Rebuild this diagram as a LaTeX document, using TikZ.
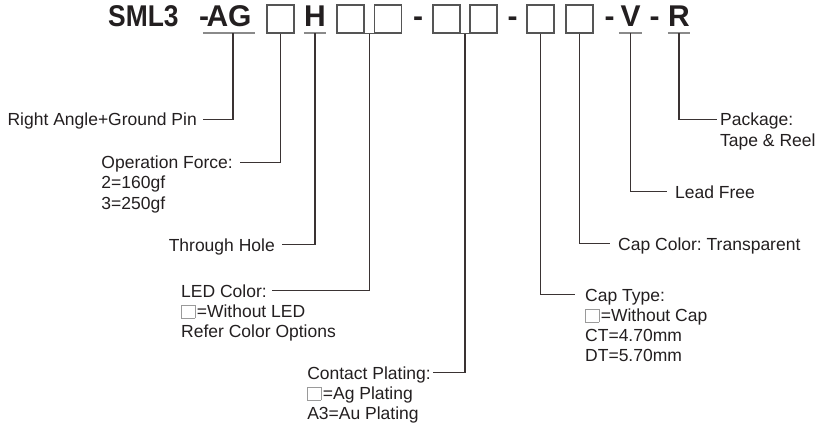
\documentclass[tikz,border=0pt]{standalone}
\usepackage{fontspec}
\usepackage{graphicx}
\setmainfont{Liberation Sans}
\usetikzlibrary{calc}
\frenchspacing
\definecolor{ink}{HTML}{231F20}
\definecolor{wire}{HTML}{3A3333}
\definecolor{boxc}{HTML}{555555}
\definecolor{ulc}{HTML}{8A8A8A}
\definecolor{smallbox}{HTML}{9A9A9A}
\newcommand\emptysq{\raisebox{-1pt}{\textcolor{smallbox}{\fboxsep=0pt\fboxrule=0.8pt\fbox{\rule{0pt}{12.5pt}\hspace{12.5pt}}}}\kern1.5pt}
\tikzset{
  lbl/.style={font=\fontsize{17.5}{20}\selectfont, text=ink, inner sep=0pt, text height=12.5pt, text depth=0pt},
  hd/.style={font=\fontsize{30}{30}\selectfont\bfseries, text=ink, inner xsep=0pt, inner ysep=6pt, text depth=0pt},
  slot/.style={draw=boxc, line width=1.2pt, minimum width=27pt, minimum height=28pt, inner sep=0pt},
  slotjoin/.style={draw=boxc, line width=1.2pt},
  conn/.style={draw=wire, line width=1.3pt},
  uline/.style={draw=ulc, line width=1.5pt}
}
\begin{document}
\begin{tikzpicture}[x=1pt,y=-1pt]
\path[fill=white] (0,0) rectangle (817,425);
\useasboundingbox (0,0) rectangle (817,425);
% header
\node[hd, anchor=base west] (sml) at (108,27) {\scalebox{0.88}[1]{SML3}};
\node[hd, anchor=base] (agdash) at (204,27) {-};
\node[hd, anchor=base, inner xsep=3.5pt] (ag) at (229,27) {AG};
\node[slot] (b1) at (280.5,19) {};
\node[hd, anchor=base] (h) at (315,27) {H};
\node[slot] (b2) at (350.5,19) {};
\node[slot] (b3) at (388,19) {};
\node[hd, anchor=base] (d1) at (418,27) {-};
\node[slot] (b4) at (446.5,19) {};
\node[slot] (b5) at (483.5,19) {};
\node[hd, anchor=base] (d2) at (512.5,27) {-};
\node[slot] (b6) at (540.5,19) {};
\node[slot] (b7) at (579.5,19) {};
\node[hd, anchor=base] (d3) at (609.5,27) {-};
\node[hd, anchor=base, inner xsep=1.5pt] (v) at (630.5,27) {V};
\node[hd, anchor=base] (d4) at (654.5,27) {-};
\node[hd, anchor=base] (r) at (679,27) {R};
% underlines and joins
\draw[uline] (ag.south west) -- (ag.south east);
\draw[uline] (h.south west) -- (h.south east);
\draw[uline] (v.south west) -- (v.south east);
\draw[uline] (r.south west) -- (r.south east);
\draw[slotjoin] (b2.south east) -- (b3.south west);
\draw[slotjoin] (b4.south east) -- (b5.south west);
\coordinate (j23) at ($(b2.south east)!.5!(b3.south west)$);
\coordinate (j45) at ($(b4.south east)!.5!(b5.south west)$);
% left labels
\node[lbl, anchor=base east] (rag) at (197,126) {Right Angle+Ground Pin};
\node[lbl, anchor=base east] (opf) at (233,169) {Operation Force:};
\node[lbl, anchor=base west] (opf2) at ([yshift=-20pt]opf.base west) {2=160gf};
\node[lbl, anchor=base west] (opf3) at ([yshift=-20pt]opf2.base west) {3=250gf};
\node[lbl, anchor=base east] (th) at (275,251) {Through Hole};
\node[lbl, anchor=base east] (led) at (267,297) {LED Color:};
\node[lbl, anchor=base west] (led2) at ([yshift=-20pt]led.base west) {\emptysq=Without LED};
\node[lbl, anchor=base west] (led3) at ([yshift=-20pt]led2.base west) {Refer Color Options};
\node[lbl, anchor=base east] (cp) at (431,379) {Contact Plating:};
\node[lbl, anchor=base west] (cp2) at ([yshift=-20pt]cp.base west) {\emptysq=Ag Plating};
\node[lbl, anchor=base west] (cp3) at ([yshift=-20pt]cp2.base west) {A3=Au Plating};
% right labels
\node[lbl, anchor=base west] (ct) at (585,301) {Cap Type:};
\node[lbl, anchor=base west] (ct2) at ([yshift=-20pt]ct.base west) {\emptysq=Without Cap};
\node[lbl, anchor=base west] (ct3) at ([yshift=-20pt]ct2.base west) {CT=4.70mm};
\node[lbl, anchor=base west] (ct4) at ([yshift=-20pt]ct3.base west) {DT=5.70mm};
\node[lbl, anchor=base west] (cc) at (618,250) {Cap Color: Transparent};
\node[lbl, anchor=base west] (lf) at (675,198) {Lead Free};
\node[lbl, anchor=base west] (pk) at (720,126) {Package:};
\node[lbl, anchor=base west] (pk2) at ([yshift=-21pt]pk.base west) {Tape \& Reel};
% connectors
\draw[conn] ([xshift=4pt]ag.south) |- ([xshift=6pt]rag.east);
\draw[conn] (b1.south) |- ([xshift=7pt]opf.east);
\draw[conn] (h.south) |- ([xshift=7pt]th.east);
\draw[conn] (j23) |- ([xshift=5pt]led.east);
\draw[conn] (j45) |- ([xshift=2pt]cp.east);
\draw[conn] (b6.south) |- ([xshift=-10pt]ct.west);
\draw[conn] (b7.south) |- ([xshift=-8pt]cc.west);
\draw[conn] (v.south) |- ([xshift=-8pt]lf.west);
\draw[conn] (r.south) |- ([xshift=-3pt]pk.west);
\end{tikzpicture}
\end{document}
